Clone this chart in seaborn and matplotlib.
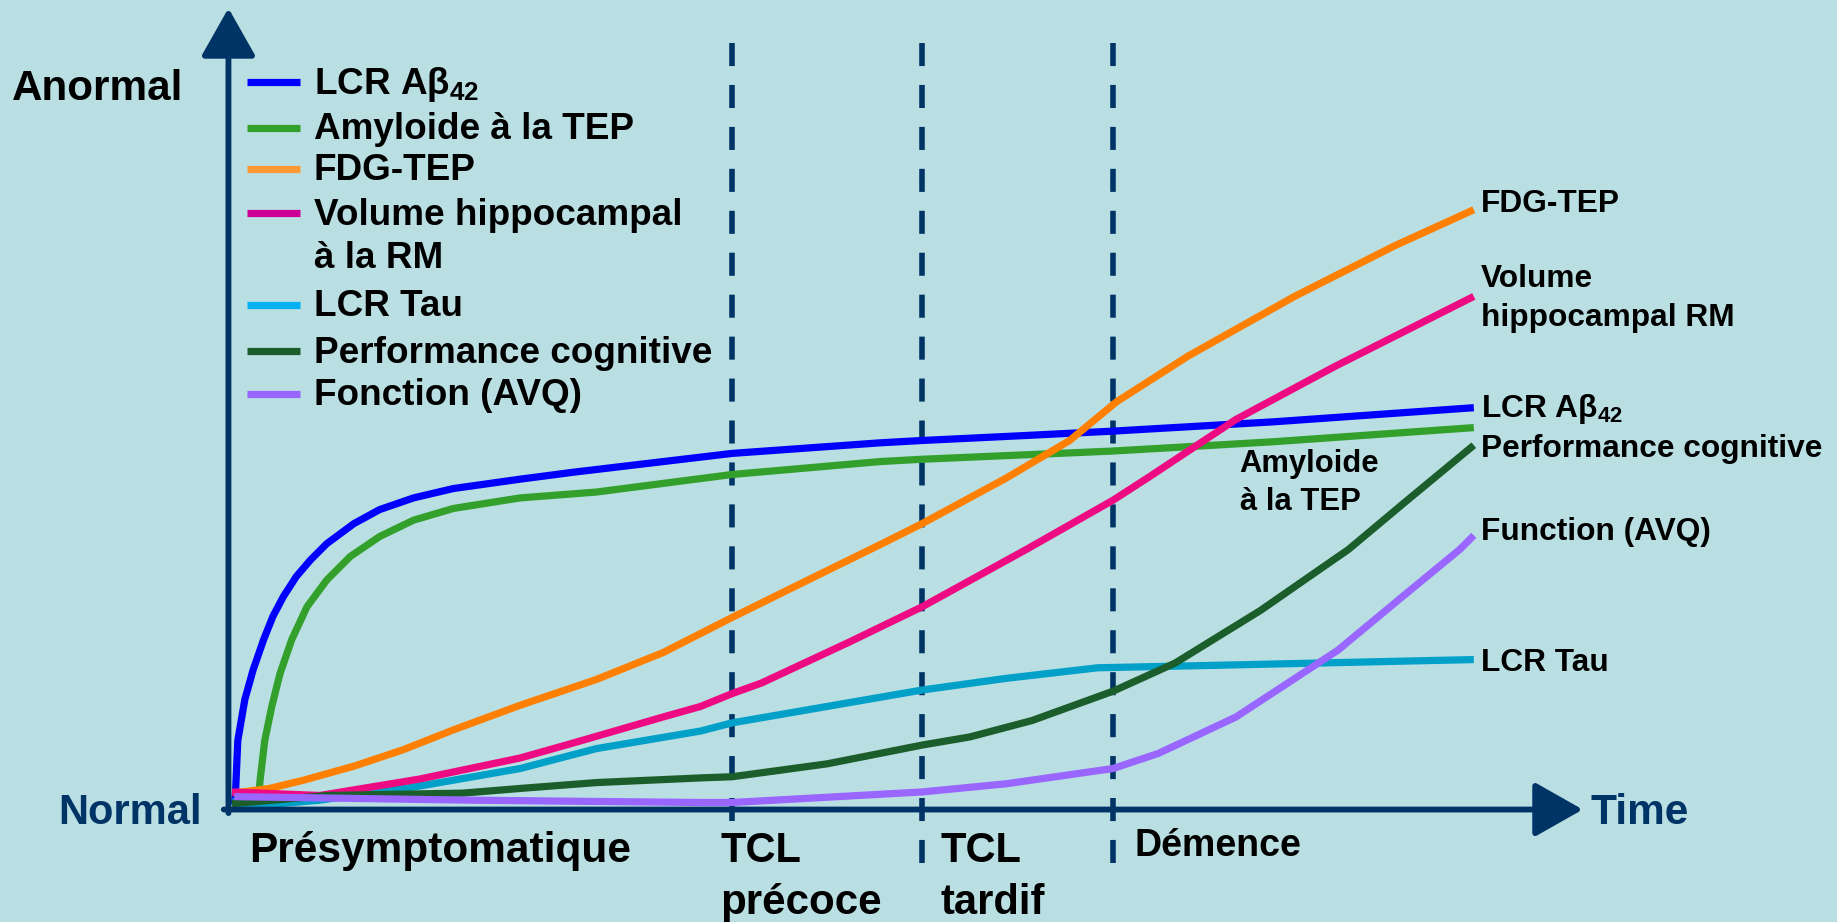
import pandas as pd
import seaborn as sns
import matplotlib.pyplot as plt

# 1. valeurs (temps / niveau d'anomalie, unités arbitraires)
t_abeta = [5, 6, 8, 14, 21, 30, 38, 47, 58, 70, 84, 107, 129, 158, 192, 249, 295,
           430, 556, 592, 675, 755, 893, 1063]
y_abeta = [4, 14, 59, 94, 119, 145, 165, 182, 199, 213, 227, 244, 256, 266, 274, 282, 288,
           304, 313, 315, 319, 323, 331, 343]

t_amyl = [25, 27, 31, 37, 44, 54, 67, 84, 104, 129, 158, 192, 249, 314,
          430, 556, 592, 755, 893, 1063]
y_amyl = [1, 25, 59, 88, 116, 145, 173, 196, 216, 233, 247, 257, 266, 271,
          286, 297, 299, 306, 314, 326]

t_fdg = [4, 35, 64, 107, 149, 192, 249, 314, 371, 430, 505, 556, 592, 664, 718, 758,
         819, 910, 995, 1063]
y_fdg = [14, 18, 25, 37, 51, 68, 89, 111, 134, 164, 201, 226, 244, 283, 315, 348,
         387, 438, 481, 512]

t_hippo = [3, 78, 163, 249, 295, 371, 403, 430, 455, 530, 592, 681, 755, 786, 860, 944, 1063]
y_hippo = [15, 12, 26, 44, 57, 79, 88, 99, 108, 143, 173, 222, 264, 284, 333, 378, 438]

t_tau = [3, 21, 78, 163, 249, 314, 403, 430, 511, 592, 664, 742, 838, 1063]
y_tau = [7, 3, 8, 20, 35, 52, 67, 74, 88, 102, 112, 121, 123, 128]

t_cog = [3, 85, 200, 249, 314, 403, 430, 511, 592, 633, 686, 755, 808, 881, 956, 1005, 1063]
y_cog = [5, 12, 14, 18, 23, 27, 28, 39, 55, 62, 76, 101, 125, 170, 222, 263, 311]

t_avq = [5, 205, 403, 430, 592, 664, 755, 794, 860, 947, 1000, 1051, 1063]
y_avq = [11, 8, 6, 6, 15, 22, 35, 48, 79, 136, 180, 222, 234]

# limites des stades (traits pointillés)
stage_x = [430, 592, 755]

series = {
    "LCR Aβ42": (t_abeta, y_abeta),
    "Amyloide à la TEP": (t_amyl, y_amyl),
    "LCR Tau": (t_tau, y_tau),
    "FDG-TEP": (t_fdg, y_fdg),
    "Volume hippocampal à la RM": (t_hippo, y_hippo),
    "Performance cognitive": (t_cog, y_cog),
    "Fonction (AVQ)": (t_avq, y_avq),
}
line_colors = {
    "LCR Aβ42": "#0000FF",
    "Amyloide à la TEP": "#33A02C",
    "LCR Tau": "#00A0C8",
    "FDG-TEP": "#FF8000",
    "Volume hippocampal à la RM": "#EE0A82",
    "Performance cognitive": "#1B5E2B",
    "Fonction (AVQ)": "#9966FF",
}

legend_labels = ["LCR Aβ$_{42}$", "Amyloide à la TEP", "FDG-TEP",
                 "Volume hippocampal\nà la RM", "LCR Tau",
                 "Performance cognitive", "Fonction (AVQ)"]
legend_colors = ["#0000FF", "#33A02C", "#FF9933", "#CC0099",
                 "#00B0F0", "#1B5E2B", "#9966FF"]

df = pd.concat([pd.DataFrame({"temps": t, "niveau": y, "marqueur": name})
                for name, (t, y) in series.items()], ignore_index=True)

bg = "#BADFE3"
navy = "#003366"

sns.set_theme(style="white", rc={"axes.facecolor": bg, "figure.facecolor": bg})
plt.rcParams["font.family"] = ["Liberation Sans", "DejaVu Sans"]
plt.rcParams["font.weight"] = "bold"
plt.rcParams["mathtext.fontset"] = "custom"
plt.rcParams["mathtext.rm"] = "Liberation Sans:bold"
plt.rcParams["mathtext.it"] = "Liberation Sans:bold"
plt.rcParams["mathtext.bf"] = "Liberation Sans:bold"

fig = plt.figure(figsize=(18.37, 9.22), dpi=100)
ax = fig.add_axes([0, 0, 1, 1])

# 2. traits pointillés des stades
for x, bottom in zip(stage_x, [-10, -46, -46]):
    ax.plot([x, x], [654, bottom], color=navy, lw=4.0, ls=(0, (4.15, 3.4)), zorder=1)

# 3. courbes
sns.lineplot(data=df, x="temps", y="niveau", hue="marqueur",
             hue_order=list(series.keys()), palette=line_colors,
             linewidth=5.2, estimator=None, sort=False, legend=False,
             ax=ax, zorder=3, solid_capstyle="butt", solid_joinstyle="round")

ax.set_xlim(-195, 1373)
ax.set_ylim(-96, 691)
ax.axis("off")

# 4. axes fléchés
arrow = dict(arrowstyle="-|>,head_length=30,head_width=17", mutation_scale=1,
             lw=4.2, color=navy, shrinkA=0, shrinkB=0)
ax.annotate("", xy=(0, 684), xytext=(0, -3), arrowprops=arrow, zorder=5)
ax.annotate("", xy=(1156, 0), xytext=(-4, 0), arrowprops=arrow, zorder=5)

ax.text(-185, 606, "Anormal", fontsize=30.4, color="black")
ax.text(-145, -12, "Normal", fontsize=30, color=navy)
ax.text(1163, -12, "Time", fontsize=30.5, color=navy)

# 5. stades
ax.text(18, -45, "Présymptomatique", fontsize=30.5, color="black")
ax.text(420, -45, "TCL", fontsize=30, color="black")
ax.text(420, -89, "précoce", fontsize=30.3, color="black")
ax.text(608, -45, "TCL", fontsize=30, color="black")
ax.text(608, -89, "tardif", fontsize=30, color="black")
ax.text(773, -40, "Démence", fontsize=27, color="black")

# 6. légende (manuelle)
handle_y = [621, 582, 547, 509, 431, 391, 355]
for lab, col, hy in zip(legend_labels, legend_colors, handle_y):
    ax.plot([16, 61], [hy, hy], color=col, lw=5.2, solid_capstyle="butt")
    lines = lab.split("\n")
    for k, ln in enumerate(lines):
        ax.text(73, hy - 10 - 37 * k, ln, fontsize=26.6, color="black")

# 7. étiquettes à droite
right_labels = [("FDG-TEP", 510), ("Volume", 446), ("hippocampal RM", 413),
                ("LCR Aβ$_{42}$", 335), ("Performance cognitive", 301),
                ("Function (AVQ)", 230), ("LCR Tau", 118)]
for txt, yb in right_labels:
    ax.text(1069, yb, txt, fontsize=22.8, color="black")

ax.text(863, 288, "Amyloide", fontsize=22.3, color="black")
ax.text(863, 256, "à la TEP", fontsize=22.3, color="black")

fig.savefig("out.png", dpi=100, facecolor=bg)
